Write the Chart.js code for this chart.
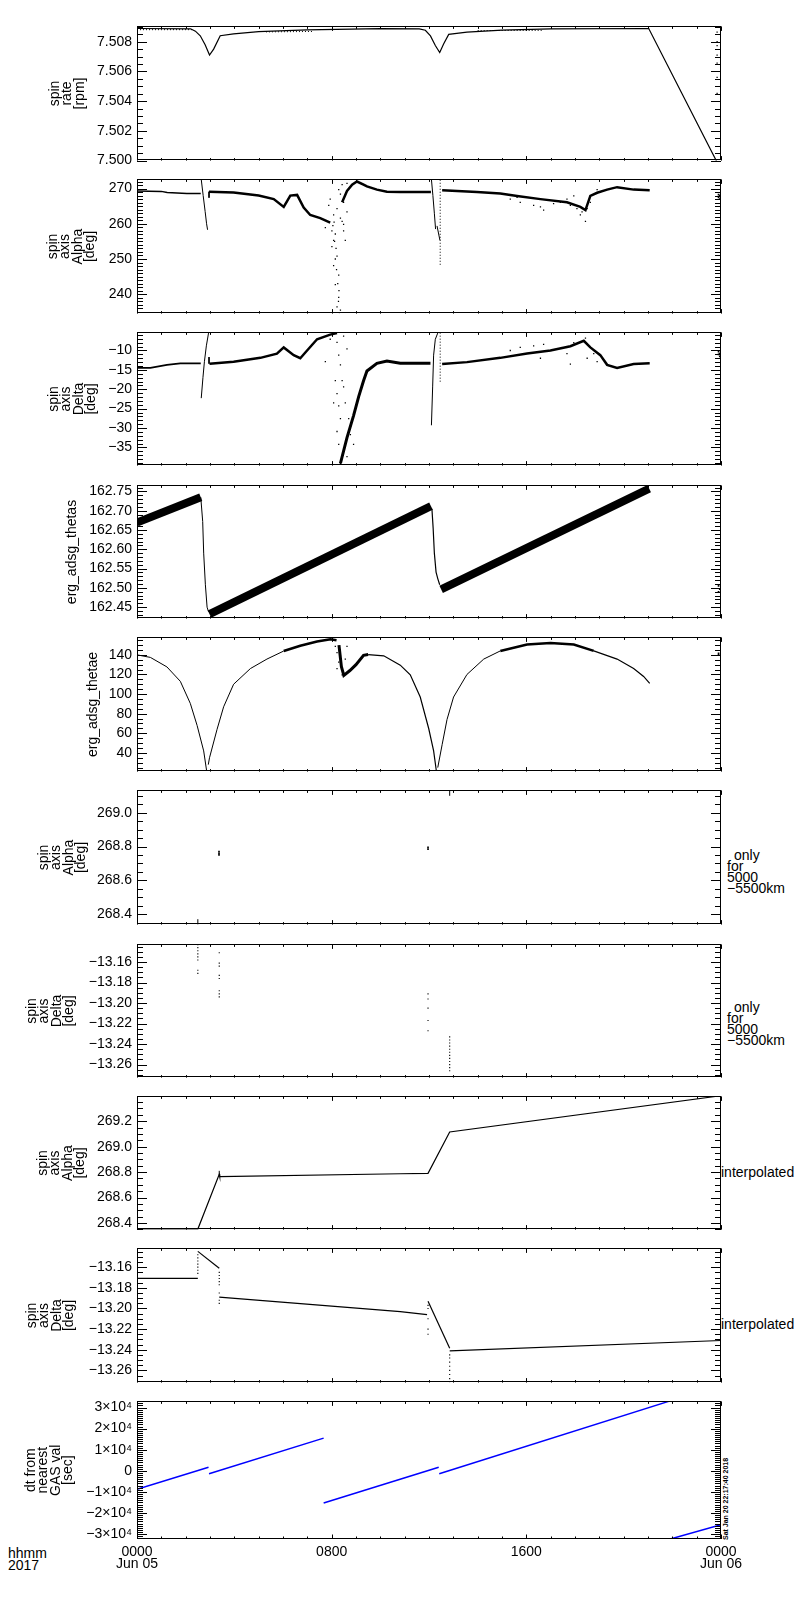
<!DOCTYPE html>
<html>
<head>
<meta charset="utf-8">
<script src="https://cdn.jsdelivr.net/npm/chart.js@4.4.1/dist/chart.umd.min.js"></script>
<style>
body { margin: 0; background: #fff; }
#page { position: relative; width: 800px; height: 1600px; background: #fff; overflow: hidden; }
#page canvas { position: absolute; left: 0; }
.lbl { position: absolute; font: 14px 'Liberation Sans', Arial, sans-serif; color: #000; white-space: pre; line-height: 14px; }
.stamp { position: absolute; font: bold 7px 'Liberation Sans', Arial, sans-serif; color: #000; white-space: pre;
         transform: rotate(-90deg); transform-origin: 0 0; line-height: 7px; }
</style>
</head>
<body>
<div id="page">
  <div class="lbl" style="left:734px;top:848px">only</div>
  <div class="lbl" style="left:727px;top:859px">for</div>
  <div class="lbl" style="left:727px;top:870px">5000</div>
  <div class="lbl" style="left:727px;top:881px">−5500km</div>
  <div class="lbl" style="left:734px;top:1000px">only</div>
  <div class="lbl" style="left:727px;top:1011px">for</div>
  <div class="lbl" style="left:727px;top:1022px">5000</div>
  <div class="lbl" style="left:727px;top:1033px">−5500km</div>
  <div class="lbl" style="left:721px;top:1165px">interpolated</div>
  <div class="lbl" style="left:721px;top:1317px">interpolated</div>
  <div class="lbl" style="left:8px;top:1546px">hhmm</div>
  <div class="lbl" style="left:8px;top:1558px">2017</div>
  <div class="stamp" style="left:722px;top:1540px">Sat Jan 20 22:17:40 2018</div>
</div>
<script>
// x axis (hours of Jun 05 2017)
const hours = [0, 8, 16, 24];
const hourLabels = [['0000', 'Jun 05'], ['0800'], ['1600'], ['0000', 'Jun 06']];

// spin rate [rpm]
const rateMain = [[0,7.50889],[2.2,7.50887],[2.4,7.50871],[2.6,7.5084],[2.8,7.5078],[2.98,7.5071],[3.15,7.5075],[3.42,7.5084],[3.97,7.50853],[5.0,7.50868],[7.0,7.5088],[10.0,7.50888],[11.6,7.50886],[11.85,7.50877],[12.06,7.50839],[12.26,7.50774],[12.44,7.50727],[12.6,7.50785],[12.81,7.50849],[13.56,7.50864],[15.0,7.50878],[17.0,7.50886],[21.03,7.50889],[24,7.49937]];
const rateLowA = [[0,7.50881],[2.3,7.50881]];
const rateLowB = [[5.3,7.50866],[7.2,7.50869]];
const rateLowC = [[14.0,7.50875],[16.7,7.50876]];
const rateEdge = [[23.84,7.50864],[23.84,7.508],[23.84,7.50774],[23.84,7.5071],[23.84,7.50656],[23.84,7.5056],[23.84,7.50453]];

// spin axis alpha [deg]
const alphaStart = [[0,269.3],[1.0,269.2],[1.24,268.9],[2.05,268.6],[2.62,268.6]];
const alphaSpike1 = [[2.64,272.6],[2.72,268.0],[2.8,263.5],[2.86,260.0],[2.9,258.3]];
const alphaNotch1 = [[2.96,269.1],[2.96,267.4]];
const alphaMid = [[2.96,269.1],[3.97,268.9],[5.0,268.0],[5.62,267.0],[6.03,264.8],[6.30,268.0],[6.58,268.2],[6.85,264.6],[7.12,262.5],[7.53,261.6],[7.94,260.3]];
const alphaCloud = [[7.94,267.0],[7.88,265.2],[8.08,262.5],[8.22,264.3],[8.36,268.4],[8.49,266.1],[8.63,263.4],[8.43,260.7],[8.15,257.1],[8.01,253.5],[8.22,250.8],[8.08,248.1],[8.29,245.4],[8.15,242.7],[8.29,239.1],[8.22,236.4],[8.36,235.5],[7.74,258.9],[8.01,258.0],[8.08,255.3],[8.49,258.0],[8.56,255.3],[8.29,269.7],[8.43,271.1],[8.63,271.5],[7.53,261.6],[8.36,261.6],[8.49,259.8],[8.15,250.0],[8.2,247.0],[8.25,243.0],[8.3,241.0],[8.18,253.0],[8.12,255.0],[8.28,238.0],[8.32,234.8],[8.05,259.5],[8.1,260.5]];
const alphaRise = [[8.43,266.1],[8.63,269.3],[8.84,271.1],[9.04,272.0],[9.31,271.1],[9.45,270.6],[9.86,269.7],[10.27,269.1],[10.82,269.0],[12.08,269.0]];
const alphaSpike2 = [[12.1,272.6],[12.16,268.0],[12.22,263.0],[12.27,258.5]];
const alphaSpike2b = [[12.33,259.4],[12.45,255.3]];
const alphaColumn2 = [[12.46,272.5],[12.46,248.0]];
const alphaEnd = [[12.54,269.5],[13.97,269.0],[14.93,268.6],[15.62,267.9],[16.58,267.0],[17.67,266.1],[18.22,264.8],[18.43,263.9],[18.63,267.9],[18.91,268.8],[19.32,269.7],[19.73,270.4],[20.41,269.7],[21.07,269.5]];
const alphaScatter = [[15.34,267.0],[15.75,266.1],[16.30,265.2],[16.71,263.9],[17.40,266.1],[17.67,267.0],[17.95,267.9],[18.22,262.5],[18.43,260.7],[18.50,264.3],[18.63,266.1],[18.91,269.7],[15.62,267.5],[16.58,264.8],[17.12,265.7],[17.81,265.2],[18.08,264.3],[18.29,263.4]];
const alphaEdge = [[23.9,267.5],[23.9,268.3],[23.95,267.0],[23.95,268.0]];

// spin axis delta [deg]
const deltaStart = [[0,-14.5],[0.55,-14.5],[1.23,-13.7],[1.78,-13.3],[2.62,-13.3]];
const deltaSpike1 = [[2.64,-22.3],[2.71,-17.0],[2.77,-12.9],[2.85,-8.8],[2.94,-5.5]];
const deltaNotch1 = [[2.96,-11.7],[2.96,-13.4]];
const deltaMid = [[2.98,-13.4],[3.97,-12.9],[5.07,-11.9],[5.75,-10.8],[6.03,-9.2],[6.44,-11.2],[6.71,-12.0],[6.99,-10.0],[7.4,-7.1],[7.94,-5.9],[8.22,-5.5]];
const deltaCloud = [[8.08,-5.5],[8.22,-7.9],[8.29,-11.2],[8.36,-13.7],[8.15,-17.8],[8.22,-21.1],[8.29,-24.3],[8.36,-27.6],[8.22,-30.9],[8.29,-34.2],[8.43,-37.4],[8.36,-39.1],[8.49,-6.3],[8.63,-9.6],[7.94,-7.1],[7.74,-12.9],[8.49,-19.4],[8.70,-27.6],[8.77,-31.7],[8.56,-23.5],[8.43,-17.8],[8.08,-23.5],[8.63,-37.4],[8.90,-34.2]];
const deltaRise = [[8.36,-39.1],[8.63,-32.5],[8.90,-26.8],[9.11,-21.9],[9.31,-17.8],[9.45,-15.3],[9.86,-13.3],[10.27,-12.7],[10.82,-13.3],[12.06,-13.3]];
const deltaSpike2 = [[12.10,-29.3],[12.15,-19.4],[12.19,-11.2],[12.26,-7.1],[12.36,-5.5]];
const deltaColumn2 = [[12.46,-5.4],[12.46,-18.5]];
const deltaEnd = [[12.54,-13.5],[13.56,-13.0],[14.93,-11.9],[16.03,-10.8],[16.99,-10.0],[17.81,-8.9],[18.36,-7.5],[18.63,-9.2],[19.04,-11.2],[19.32,-13.7],[19.73,-14.5],[20.41,-13.5],[21.07,-13.3]];
const deltaScatter = [[15.34,-10.0],[15.75,-9.2],[16.30,-8.8],[16.71,-8.4],[17.26,-9.6],[17.67,-10.8],[17.95,-8.0],[18.43,-6.8],[18.50,-12.0],[18.77,-10.8],[18.91,-12.9],[17.81,-13.5],[16.58,-12.0],[15.62,-11.2]];
const deltaEdge = [[23.9,-10.3],[23.9,-11.0],[23.95,-10.8],[23.95,-11.5]];

// erg_adsg_thetas
const thetasBandA = [[0,162.669],[2.62,162.735]];
const thetasDrop1 = [[2.62,162.735],[2.70,162.672],[2.74,162.590],[2.81,162.508],[2.88,162.450],[2.94,162.438]];
const thetasBandB = [[2.98,162.432],[12.08,162.712]];
const thetasDrop2 = [[12.12,162.705],[12.17,162.655],[12.22,162.590],[12.29,162.541],[12.36,162.524],[12.44,162.508]];
const thetasBandC = [[12.5,162.496],[21.05,162.757]];
const thetasEdge = [[23.9,162.49],[23.9,162.505],[23.95,162.497]];

// erg_adsg_thetae
const thetaeA = [[0,140],[0.55,137.4],[1.23,127.7],[1.78,113],[2.19,90.5],[2.47,68],[2.74,42],[2.86,22]];
const thetaeB = [[2.93,28],[2.98,35],[3.29,64],[3.56,87],[3.97,110],[4.66,126],[5.34,135.7],[6.03,143.9]];
const thetaeBand1 = [[6.03,143.9],[6.71,149.3],[7.4,153.6],[7.95,156],[8.2,155]];
const thetaeDip = [[8.3,150],[8.4,128],[8.5,119],[8.75,124],[9.0,130],[9.31,139.5],[9.5,140.3]];
const thetaeC = [[9.5,140.3],[10.14,139],[10.82,129.5],[11.23,119.7],[11.64,97],[11.99,64.6],[12.19,42],[12.3,22]];
const thetaeD = [[12.36,25],[12.54,48.4],[12.74,74],[13.01,97],[13.56,120],[14.25,135.7],[14.93,144]];
const thetaeBand2 = [[14.93,144],[16.03,150.5],[16.99,152],[17.95,150.5],[18.77,144]];
const thetaeE = [[18.77,144],[19.73,135.7],[20.41,126],[20.82,118],[21.07,111]];
const thetaeScatter = [[8.08,155.1],[8.15,148.7],[8.22,142.2],[8.36,139],[8.29,132.5],[8.22,126],[8.43,119.6],[8.56,135.7],[8.63,148.7]];
const thetaeEdge = [[23.9,140],[23.9,141.5]];

// spin axis alpha, only for 5000-5500km
const alphaOnly = [[3.37,268.75],[3.37,268.76],[3.37,268.77],[11.96,268.785],[11.96,268.795]];
const alphaOnlyLow = [[2.5,268.338],[2.5,268.37]];
const alphaOnlyHigh = [[12.85,269.1],[12.85,269.132]];

// spin axis delta, only for 5000-5500km
const deltaOnly = [[2.5,-13.143],[2.5,-13.146],[2.5,-13.149],[2.5,-13.152],[2.5,-13.155],[2.5,-13.158],[2.5,-13.168],[2.5,-13.171],
  [3.38,-13.151],[3.38,-13.161],[3.38,-13.164],[3.38,-13.173],[3.38,-13.176],[3.38,-13.188],[3.38,-13.191],[3.38,-13.194],
  [11.96,-13.191],[11.96,-13.196],[11.96,-13.205],[11.96,-13.217],[11.96,-13.227],
  [12.85,-13.233],[12.85,-13.236],[12.85,-13.239],[12.85,-13.242],[12.85,-13.245],[12.85,-13.248],[12.85,-13.251],[12.85,-13.254],[12.85,-13.257],[12.85,-13.260],[12.85,-13.263],[12.85,-13.266]];

// spin axis alpha, interpolated
const alphaInterp = [[0,268.352],[2.5,268.352],[3.38,268.783],[3.4,268.765],[10.82,268.787],[11.96,268.79],[12.85,269.115],[24,269.40]];
const alphaInterpTick = [[3.38,268.775],[3.38,268.81]];

// spin axis delta, interpolated
const deltaInterpA = [[0,-13.1708],[2.5,-13.1708]];
const deltaInterpB = [[2.5,-13.1447],[3.38,-13.161]];
const deltaInterpC = [[3.38,-13.189],[10.82,-13.203],[11.92,-13.206]];
const deltaInterpD = [[11.96,-13.193],[12.85,-13.2385]];
const deltaInterpE = [[12.85,-13.241],[24,-13.231]];
const deltaInterpDots = [[2.5,-13.148],[2.5,-13.151],[2.5,-13.154],[2.5,-13.157],[2.5,-13.160],[2.5,-13.163],[2.5,-13.166],
  [3.38,-13.165],[3.38,-13.168],[3.38,-13.171],[3.38,-13.174],[3.38,-13.177],[3.38,-13.185],[3.38,-13.192],[3.38,-13.195],
  [11.96,-13.197],[11.96,-13.200],[11.96,-13.210],[11.96,-13.220],[11.96,-13.225],
  [12.85,-13.245],[12.85,-13.248],[12.85,-13.252],[12.85,-13.256],[12.85,-13.260],[12.85,-13.264],[12.85,-13.268],[12.85,-13.271]];

// dt from nearest GAS value [sec]
const dtSeg1 = [[0,-8800],[2.94,1660]];
const dtSeg2 = [[2.96,-1380],[7.67,15500]];
const dtSeg3 = [[7.67,-15230],[12.40,1660]];
const dtSeg4 = [[12.42,-1380],[21.85,32900]];
const dtSeg5 = [[21.92,-32300],[24,-25500]];

const FONT = "'Liberation Sans', Arial, sans-serif";

function xy(arr) {
    return arr.map(p => ({x: p[0], y: p[1]}));
}
function line(arr, w, color, dash) {
    return {data: xy(arr), showLine: true, borderColor: color || '#000', borderWidth: w || 1,
            borderDash: dash || [], pointRadius: 0, borderCapStyle: 'butt', tension: 0};
}
function dots(arr, r) {
    return {data: xy(arr), showLine: false, pointRadius: r || 0.9, pointStyle: 'rect',
            backgroundColor: '#000', borderWidth: 0};
}
const minusFmt = d => v => (v < 0 ? '\u2212' : '') + Math.abs(v).toFixed(d);

const panels = [
    {top: 23, bottom: 164, min: 7.5, max: 7.50903, majors: [7.500, 7.502, 7.504, 7.506, 7.508], minor: 0.0005,
     fmt: v => v.toFixed(3), title: ['spin', 'rate', '[rpm]'], tpad: 42,
     sets: [line(rateMain, 1.2), line(rateLowA, 1, '#000', [1, 2]), line(rateLowB, 1, '#000', [1, 2]),
            line(rateLowC, 1, '#000', [1, 2]), dots(rateEdge)]},
    {top: 176, bottom: 317, min: 234.5, max: 272.6, majors: [240, 250, 260, 270], minor: 1,
     fmt: v => v.toFixed(0), title: ['spin', 'axis', 'Alpha', '[deg]'], tpad: 40,
     sets: [line(alphaStart, 1.5), line(alphaSpike1, 1), line(alphaNotch1, 1), line(alphaMid, 2.5),
            dots(alphaCloud), line(alphaRise, 2.5), line(alphaSpike2, 1), line(alphaSpike2b, 1),
            line(alphaColumn2, 1, '#000', [1, 2]), line(alphaEnd, 2.5), dots(alphaScatter), dots(alphaEdge, 1.2)]},
    {top: 329, bottom: 469, min: -39.7, max: -5.33, majors: [-35, -30, -25, -20, -15, -10], minor: 1,
     fmt: minusFmt(0), title: ['spin', 'axis', 'Delta', '[deg]'], tpad: 41,
     sets: [line(deltaStart, 1.8), line(deltaSpike1, 1), line(deltaNotch1, 1), line(deltaMid, 2.5),
            dots(deltaCloud), line(deltaRise, 3), line(deltaSpike2, 1), line(deltaColumn2, 1, '#000', [1, 2]),
            line(deltaEnd, 2.5), dots(deltaScatter), dots(deltaEdge, 1.2)]},
    {top: 482, bottom: 622, min: 162.4204, max: 162.7655, majors: [162.45, 162.50, 162.55, 162.60, 162.65, 162.70, 162.75],
     minor: 0.01, fmt: v => v.toFixed(2), title: ['erg_adsg_thetas'], tpad: 59,
     sets: [line(thetasBandA, 8), line(thetasDrop1, 1), line(thetasBandB, 8), line(thetasDrop2, 1.2),
            line(thetasBandC, 8), dots(thetasEdge, 1.2)]},
    {top: 634, bottom: 775, min: 20.9, max: 157.8, majors: [40, 60, 80, 100, 120, 140], minor: 5,
     fmt: v => v.toFixed(0), title: ['erg_adsg_thetae'], tpad: 80,
     sets: [line(thetaeA, 1), line(thetaeB, 1), line(thetaeBand1, 2.5), line(thetaeDip, 3), line(thetaeC, 1.2),
            line(thetaeD, 1), line(thetaeBand2, 2.5), line(thetaeE, 1.2), dots(thetaeScatter), dots(thetaeEdge, 1.2)]},
    {top: 787, bottom: 928, min: 268.338, max: 269.132, majors: [268.4, 268.6, 268.8, 269.0], minor: 0.05,
     fmt: v => v.toFixed(1), title: ['spin', 'axis', 'Alpha', '[deg]'], tpad: 31,
     sets: [dots(alphaOnly, 1.2), line(alphaOnlyLow, 1), line(alphaOnlyHigh, 1)]},
    {top: 941, bottom: 1081, min: -13.2727, max: -13.1428, majors: [-13.26, -13.24, -13.22, -13.20, -13.18, -13.16],
     minor: 0.005, fmt: minusFmt(2), title: ['spin', 'axis', 'Delta', '[deg]'], tpad: 19,
     sets: [dots(deltaOnly, 0.8)]},
    {top: 1093, bottom: 1233, min: 268.348, max: 269.395, majors: [268.4, 268.6, 268.8, 269.0, 269.2], minor: 0.05,
     fmt: v => v.toFixed(1), title: ['spin', 'axis', 'Alpha', '[deg]'], tpad: 30,
     sets: [line(alphaInterp, 1.2), line(alphaInterpTick, 1)]},
    {top: 1245, bottom: 1386, min: -13.2718, max: -13.1418, majors: [-13.26, -13.24, -13.22, -13.20, -13.18, -13.16],
     minor: 0.005, fmt: minusFmt(2), title: ['spin', 'axis', 'Delta', '[deg]'], tpad: 19,
     sets: [line(deltaInterpA, 1.2), line(deltaInterpB, 1.2), line(deltaInterpC, 1.2), line(deltaInterpD, 1.2),
            line(deltaInterpE, 1.2), dots(deltaInterpDots, 0.8)]},
    {top: 1398, bottom: 1539, min: -32300, max: 32900, majors: [-30000, -20000, -10000, 0, 10000, 20000, 30000],
     minor: 1000, fmt: v => v === 0 ? '0' : (v < 0 ? '\u2212' : '') + Math.abs(v / 10000) + '\u00d710\u2074',
     title: ['dt from', 'nearest', 'GAS val', '[sec]'], tpad: 18,
     sets: [line(dtSeg1, 1.5, '#0000ff'), line(dtSeg2, 1.5, '#0000ff'), line(dtSeg3, 1.5, '#0000ff'),
            line(dtSeg4, 1.5, '#0000ff'), line(dtSeg5, 1.5, '#0000ff')]}
];

// IDL style frame: box with inward ticks on all four sides
const idlAxes = {
    id: 'idlAxes',
    afterDatasetsDraw(chart, args, o) {
        const ctx = chart.ctx, a = chart.chartArea;
        const x = chart.scales.x, y = chart.scales.y;
        ctx.save();
        ctx.strokeStyle = '#000';
        ctx.lineWidth = 1;
        ctx.beginPath();
        const step = o.minor;
        for (let k = Math.ceil(y.min / step - 1e-6); k * step <= y.max + step * 1e-6; k++) {
            const v = k * step;
            const major = o.majors.some(m => Math.abs(m - v) < step * 0.01);
            const py = Math.round(y.getPixelForValue(v)) + 0.5;
            const len = major ? 10 : 6;
            ctx.moveTo(a.left, py); ctx.lineTo(a.left + len, py);
            ctx.moveTo(a.right, py); ctx.lineTo(a.right - len, py);
        }
        for (let h = 0; h <= 24; h++) {
            const px = Math.round(x.getPixelForValue(h)) + 0.5;
            const len = h % 8 === 0 ? 4.5 : 2.5;
            ctx.moveTo(px, a.bottom); ctx.lineTo(px, a.bottom - len);
            ctx.moveTo(px, a.top); ctx.lineTo(px, a.top + len);
        }
        ctx.stroke();
        ctx.strokeRect(Math.round(a.left) + 0.5, Math.round(a.top) + 0.5,
                       Math.round(a.right - a.left) - 1, Math.round(a.bottom - a.top) - 1);
        ctx.restore();
    }
};
Chart.register(idlAxes);

const page = document.getElementById('page');
panels.forEach((p, i) => {
    const last = i === panels.length - 1;
    const padT = 10, padB = last ? 0 : 10, xh = last ? 44 : 0;
    const cv = document.createElement('canvas');
    cv.width = 800;
    cv.height = (p.bottom - p.top) + padT + padB + xh;
    cv.style.top = (p.top - padT) + 'px';
    cv.style.width = '800px';
    cv.style.height = cv.height + 'px';
    page.appendChild(cv);

    new Chart(cv.getContext('2d'), {
        type: 'scatter',
        data: {datasets: p.sets},
        options: {
            responsive: false,
            animation: false,
            devicePixelRatio: 1,
            events: [],
            layout: {padding: {left: 7, right: 79, top: padT, bottom: padB}},
            plugins: {
                legend: {display: false},
                tooltip: {enabled: false},
                idlAxes: {majors: p.majors, minor: p.minor}
            },
            scales: {
                x: {
                    type: 'linear', min: 0, max: 24, display: last,
                    grid: {display: false, drawTicks: false},
                    border: {display: false},
                    afterBuildTicks: s => { s.ticks = hours.map(v => ({value: v})); },
                    afterFit: s => { s.height = xh; },
                    ticks: {
                        autoSkip: false, maxRotation: 0, padding: 7, color: '#000',
                        font: {family: FONT, size: 14, lineHeight: 0.88},
                        callback: v => hourLabels[hours.indexOf(v)]
                    }
                },
                y: {
                    type: 'linear', min: p.min, max: p.max,
                    grid: {display: false, drawTicks: false},
                    border: {display: false},
                    afterBuildTicks: s => { s.ticks = p.majors.map(v => ({value: v})); },
                    afterFit: s => { s.width = 130; },
                    ticks: {
                        autoSkip: false, padding: 5, color: '#000',
                        font: {family: FONT, size: 14},
                        callback: p.fmt
                    },
                    title: {
                        display: true, text: p.title, color: '#000',
                        font: {family: FONT, size: 14, lineHeight: 0.88},
                        padding: {top: p.tpad, bottom: 0}
                    }
                }
            }
        }
    });
});
</script>
</body>
</html>
